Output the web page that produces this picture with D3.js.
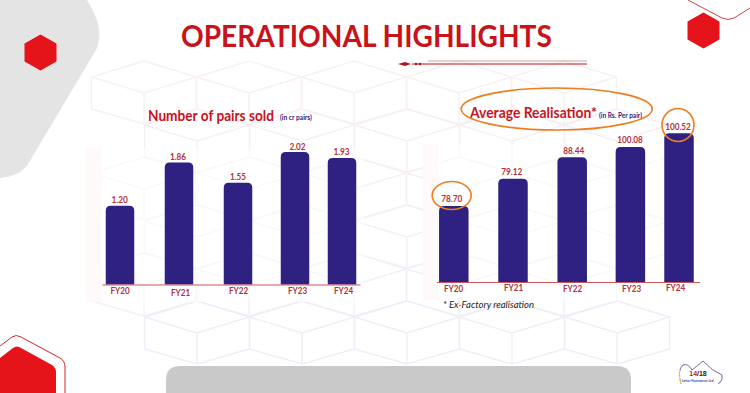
<!DOCTYPE html>
<html>
<head>
<meta charset="utf-8">
<script src="https://cdn.jsdelivr.net/npm/d3@7"></script>
<style>
  html, body { margin: 0; padding: 0; background: #fff; }
  svg { display: block; }
</style>
</head>
<body>
<svg id="slide" width="750" height="393"></svg>
<script>
// values as printed on the slide
const years = ["FY20", "FY21", "FY22", "FY23", "FY24"];
const pairsSold = [1.20, 1.86, 1.55, 2.02, 1.93];
const pairsLabels = ["1.20", "1.86", "1.55", "2.02", "1.93"];
const realisationLabels = ["78.70", "79.12", "88.44", "100.08", "100.52"];
// the slide's right-hand bars are not to scale with their labels,
// so these are the levels the bars actually reach
const realisationLevels = [51.4, 69.8, 84.3, 91.3, 100.52];

const RED = "#c8131b";
const HEX_RED = "#e5131a";
const NAVY = "#2e2182";
const LABEL_RED = "#b32f3b";
const ORANGE = "#ee7d1f";
const face = "Lato, 'Liberation Sans', sans-serif";

const svg = d3.select("#slide");

// squeeze a text horizontally so it spans the given width
function fitText(sel, x, y, width) {
  const natural = sel.node().getComputedTextLength();
  sel.attr("transform", `translate(${x},${y}) scale(${width / natural},1)`);
  return sel;
}

// ──────────────────────
// 1. Background lattice
// ──────────────────────
const lattice = svg.append("g").attr("fill", "none").attr("stroke-width", 1.4);
const cubeRows = [
  { y: 93, from: 144, to: 564, c: "#f8f0f1" },
  { y: 141, from: 197, to: 617, c: "#f7f0f2" },
  { y: 189, from: 144, to: 564, c: "#f6f0f3" },
  { y: 237, from: 197, to: 617, c: "#f4f0f5" },
  { y: 285, from: 144, to: 564, c: "#f1f0f7" },
  { y: 333, from: 197, to: 617, c: "#efeef8" }
];
cubeRows.forEach(r => {
  for (let cx = r.from; cx <= r.to; cx += 105) {
    const y = r.y;
    lattice.append("path")
      .attr("stroke", r.c)
      .attr("d", `M${cx - 52.5},${y - 16} L${cx},${y - 32} L${cx + 52.5},${y - 16} L${cx},${y} L${cx - 52.5},${y - 16}
        L${cx - 52.5},${y + 16} L${cx},${y + 31} L${cx + 52.5},${y + 16} L${cx + 52.5},${y - 16} M${cx},${y} L${cx},${y + 31}`);
  }
});

// pale panels behind the two charts
svg.append("rect").attr("x", 100).attr("y", 148).attr("width", 264).attr("height", 154).attr("fill", "#fff").attr("opacity", 0.5);
svg.append("rect").attr("x", 86).attr("y", 148).attr("width", 16).attr("height", 154).attr("fill", "#fefafa");
svg.append("rect").attr("x", 437).attr("y", 144).attr("width", 266).attr("height", 156).attr("fill", "#fff").attr("opacity", 0.5);
svg.append("rect").attr("x", 423).attr("y", 144).attr("width", 16).attr("height", 156).attr("fill", "#fefafa");

// ──────────────────────
// 2. Slide decoration
// ──────────────────────
const hexPath = (cx, cy, w, h) => {
  const line = d3.line().curve(d3.curveLinearClosed);
  return line([
    [cx, cy - h / 2], [cx + w / 2, cy - h / 4], [cx + w / 2, cy + h / 4],
    [cx, cy + h / 2], [cx - w / 2, cy + h / 4], [cx - w / 2, cy - h / 4]
  ]);
};

svg.append("path")
  .attr("d", "M0,0 L87,0 Q106,30 96,50 L28,164 Q20,176 0,178 Z")
  .attr("fill", "#e4e4e4");

[[40.5, 52.5], [703.5, 30.5]].forEach(([cx, cy]) => {
  svg.append("path")
    .attr("d", hexPath(cx, cy, 30, 34))
    .attr("fill", HEX_RED)
    .attr("stroke", HEX_RED)
    .attr("stroke-width", 2)
    .attr("stroke-linejoin", "round");
});

svg.append("path")
  .attr("d", "M688,0 L722,18 Q728,21 734,18 L750,8")
  .attr("fill", "none")
  .attr("stroke", "#c8444a")
  .attr("stroke-width", 1);

// bottom-left hexagon with its outline
svg.append("path")
  .attr("d", "M0,346 L12,337 Q16,334 21,337 L60,358 Q65,361 65,367 L65,393")
  .attr("fill", "none")
  .attr("stroke", "#d2242a")
  .attr("stroke-width", 1);
svg.append("path")
  .attr("d", "M0,358 L13,348 Q17,345 21,348 L52,365 Q56,368 56,372 L56,393 L0,393 Z")
  .attr("fill", HEX_RED);

// bottom grey tab
svg.append("path")
  .attr("d", "M166,393 L166,380 Q166,366 180,366 L617,366 Q631,366 631,380 L631,393 Z")
  .attr("fill", "#c9c9c9");

// ──────────────────────
// 3. Title
// ──────────────────────
svg.append("text")
  .attr("font-family", face)
  .attr("font-size", 30)
  .attr("font-weight", "bold")
  .attr("fill", RED)
  .text("OPERATIONAL HIGHLIGHTS")
  .call(fitText, 181, 46.5, 371);

// rule under the title
svg.append("line").attr("x1", 428).attr("x2", 587).attr("y1", 61).attr("y2", 61).attr("stroke", "#dd9a9f").attr("stroke-width", 1);
svg.append("line").attr("x1", 412).attr("x2", 587).attr("y1", 64).attr("y2", 64).attr("stroke", "#b8141c").attr("stroke-width", 1);
svg.append("path").attr("d", "M398,64 L405,62 L411,64 L405,66 Z").attr("fill", "#b8141c");
[416, 420].forEach(cx => {
  svg.append("circle").attr("cx", cx).attr("cy", 64).attr("r", 1.3).attr("fill", "#b8141c");
});

// ──────────────────────
// 4. Charts
// ──────────────────────
function drawChart(cfg) {
  const g = svg.append("g");

  const barX = d3.scaleOrdinal().domain(years).range(cfg.barCenters);
  const labelX = d3.scaleOrdinal().domain(years).range(cfg.labelCenters);
  const tickX = d3.scaleOrdinal().domain(years).range(cfg.tickCenters);
  const y = d3.scaleLinear().domain([0, d3.max(cfg.values)]).range([cfg.baseline, cfg.top]);

  // bars, rounded on top only
  g.selectAll("path.bar")
    .data(years)
    .enter()
    .append("path")
    .attr("class", "bar")
    .attr("fill", NAVY)
    .attr("d", (d, i) => {
      const x0 = barX(d) - cfg.barWidth / 2;
      const x1 = barX(d) + cfg.barWidth / 2;
      const t = y(cfg.values[i]);
      return `M${x0},${cfg.baseline} L${x0},${t + 5} Q${x0},${t} ${x0 + 5},${t} L${x1 - 5},${t} Q${x1},${t} ${x1},${t + 5} L${x1},${cfg.baseline} Z`;
    });

  // value labels
  g.selectAll("text.value")
    .data(years)
    .enter()
    .append("text")
    .attr("class", "value")
    .attr("transform", (d, i) => `translate(${labelX(d)},${y(cfg.values[i]) - cfg.labelGap}) scale(0.82,1)`)
    .attr("text-anchor", "middle")
    .attr("font-family", face)
    .attr("font-size", 10)
    .attr("font-weight", "bold")
    .attr("fill", LABEL_RED)
    .text((d, i) => cfg.labels[i]);

  // x axis
  const axis = g.append("g")
    .attr("transform", `translate(0, ${cfg.baseline})`)
    .call(d3.axisBottom(tickX).tickSize(0).tickPadding(cfg.tickPad));
  axis.select(".domain").remove();
  axis.selectAll("text")
    .attr("dy", (d, i) => cfg.tickNudge[i])
    .attr("transform", "scale(0.85,1)")
    .attr("font-family", face)
    .attr("font-size", 9.5)
    .attr("font-weight", "bold")
    .attr("fill", LABEL_RED);

  g.append("line")
    .attr("x1", cfg.axisFrom)
    .attr("x2", cfg.axisTo)
    .attr("y1", cfg.baseline + 0.5)
    .attr("y2", cfg.baseline + 0.5)
    .attr("stroke", "#c9565f")
    .attr("stroke-width", 1.2);
}

drawChart({
  values: pairsSold,
  labels: pairsLabels,
  baseline: 284.5,
  top: 152,
  barWidth: 28.5,
  labelGap: 2.5,
  barCenters: [120, 179, 238, 295, 342],
  labelCenters: [119.7, 178, 238, 297.5, 341.5],
  tickCenters: [119.5, 180, 238, 297, 343],
  tickPad: 2,
  tickNudge: [8, 10, 8, 8, 8],
  axisFrom: 102.5,
  axisTo: 360.5
});

drawChart({
  values: realisationLevels,
  labels: realisationLabels,
  baseline: 282,
  top: 133.3,
  barWidth: 29.5,
  labelGap: 3.7,
  barCenters: [453.8, 513, 572.2, 630.4, 679],
  labelCenters: [451.7, 511.7, 573.7, 630, 678],
  tickCenters: [453, 513, 572, 631, 675],
  tickPad: 2,
  tickNudge: [8, 6.8, 8.2, 8.2, 6.8],
  axisFrom: 437,
  axisTo: 700
});

// ──────────────────────
// 5. Chart titles, footnote
// ──────────────────────
svg.append("text")
  .attr("font-family", face).attr("font-size", 15.5).attr("font-weight", "bold")
  .attr("fill", RED)
  .text("Number of pairs sold")
  .call(fitText, 148, 121, 126);
svg.append("text")
  .attr("font-family", face).attr("font-size", 6.5).attr("font-weight", "bold")
  .attr("fill", NAVY)
  .text("(in cr pairs)")
  .call(fitText, 280, 120, 32);

svg.append("text")
  .attr("font-family", face).attr("font-size", 15.5).attr("font-weight", "bold")
  .attr("fill", RED)
  .text("Average Realisation*")
  .call(fitText, 470, 118, 127);
svg.append("text")
  .attr("font-family", face).attr("font-size", 7).attr("font-weight", "bold")
  .attr("fill", NAVY)
  .text("(in Rs. Per pair)")
  .call(fitText, 599, 118, 43);

svg.append("text")
  .attr("font-family", face).attr("font-size", 9).attr("font-style", "italic")
  .attr("fill", "#222")
  .text("* Ex-Factory realisation")
  .call(fitText, 443, 308, 91);

// ──────────────────────
// 6. Orange call-outs
// ──────────────────────
[
  [556.7, 109, 95.5, 21],
  [678, 125, 16, 16.5],
  [451.7, 195.5, 19.5, 14]
].forEach(([cx, cy, rx, ry]) => {
  svg.append("ellipse")
    .attr("cx", cx).attr("cy", cy).attr("rx", rx).attr("ry", ry)
    .attr("fill", "none")
    .attr("stroke", ORANGE)
    .attr("stroke-width", 1.6);
});

// ──────────────────────
// 7. Logo and page number
// ──────────────────────
svg.append("path")
  .attr("d", "M681,384 Q677,370 683,365 Q688,363 692,370 Q697,366 703,361 Q712,371 722,375 Q723,381 718,384")
  .attr("fill", "none")
  .attr("stroke", "#5b3a8e")
  .attr("stroke-width", 0.8);
svg.append("path")
  .attr("d", "M681,384 Q678,375 680,369")
  .attr("fill", "none")
  .attr("stroke", "#f0e04a")
  .attr("stroke-width", 1);

const pageNo = svg.append("text")
  .attr("x", 698).attr("y", 376)
  .attr("text-anchor", "middle")
  .attr("font-family", "'Liberation Sans', sans-serif")
  .attr("font-size", 7)
  .attr("font-weight", "bold");
pageNo.append("tspan").attr("fill", "#c8131b").text("14");
pageNo.append("tspan").attr("fill", "#222").text("/18");

svg.append("text")
  .attr("x", 698).attr("y", 381.5)
  .attr("text-anchor", "middle")
  .attr("font-family", face)
  .attr("font-size", 3.5)
  .attr("font-weight", "bold")
  .attr("fill", "#3a4aa0")
  .text("Lehar Footwears Ltd.");
</script>
</body>
</html>
